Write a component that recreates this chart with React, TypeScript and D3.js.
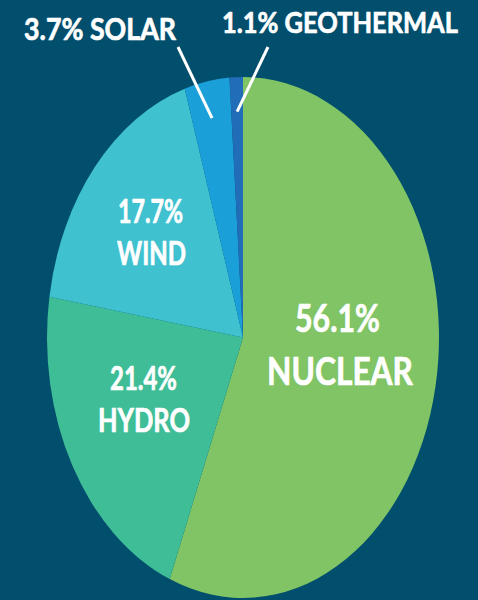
import React from "react";
import * as d3 from "d3";

const sources = ["NUCLEAR", "HYDRO", "WIND", "SOLAR", "GEOTHERMAL"];
const shares = [56.1, 21.4, 17.7, 3.7, 1.1];
const colors = ["#80c465", "#3ebd96", "#3fc1cf", "#1b9fd8", "#226db7"];

const W = 478;
const H = 600;
const BG = "#014e6d";
const CX = 243;
const CY = 337.5;
const RX = 196;
const RY = 260.5;
const FONT = "Lato, 'Open Sans', sans-serif";
const CAP = 0.7165;

type Lbl = { text: string; x: number; y: number; cap: number; width: number };

function Txt({ l }: { l: Lbl }) {
  return (
    <text
      x={l.x}
      y={l.y}
      textAnchor="middle"
      fontFamily={FONT}
      fontWeight={700}
      fontSize={l.cap / CAP}
      fill="#ffffff"
      stroke="#ffffff"
      strokeWidth={0.7}
      strokeLinejoin="round"
      textLength={l.width}
      lengthAdjust="spacingAndGlyphs"
    >
      {l.text}
    </text>
  );
}

export default function App() {
  const pie = d3.pie<number>().sort(null).value((d) => d);
  const arcs = pie(shares);
  const arc = d3.arc<d3.PieArcDatum<number>>().innerRadius(0).outerRadius(RX);
  const sy = RY / RX;

  const pt = (a: number, r: number) => [
    CX + r * Math.sin(a),
    CY - r * Math.cos(a) * sy,
  ];
  const mid = (i: number) => (arcs[i].startAngle + arcs[i].endAngle) / 2;

  const solarEnd = pt(mid(3), 168);
  const geoEnd = pt(mid(4), 170);

  const inner: Lbl[] = [
    { text: `${shares[0]}%`, x: 337.5, y: 332, cap: 27, width: 85 },
    { text: sources[0], x: 340, y: 385, cap: 27, width: 146 },
    { text: `${shares[2]}%`, x: 150.5, y: 223, cap: 23, width: 65 },
    { text: sources[2], x: 151.5, y: 265, cap: 23, width: 69 },
    { text: `${shares[1]}%`, x: 143.5, y: 390, cap: 23, width: 67 },
    { text: sources[1], x: 144, y: 432, cap: 23, width: 92 },
  ];
  const outer: Lbl[] = [
    { text: `${shares[3]}% ${sources[3]}`, x: 100, y: 40, cap: 22, width: 152 },
    { text: `${shares[4]}% ${sources[4]}`, x: 340, y: 33, cap: 21, width: 236 },
  ];

  return (
    <svg
      width={W}
      height={H}
      style={{ position: "fixed", left: 0, top: 0, display: "block" }}
    >
      <rect x={0} y={0} width={W} height={H} fill={BG} />
      <g transform={`translate(${CX},${CY}) scale(1,${sy})`}>
        {arcs.map((a, i) => (
          <path key={sources[i]} d={arc(a) || ""} fill={colors[i]} />
        ))}
      </g>
      <line x1={178} y1={47} x2={solarEnd[0]} y2={solarEnd[1]} stroke="#fff" strokeWidth={3} />
      <line x1={268} y1={47} x2={geoEnd[0]} y2={geoEnd[1]} stroke="#fff" strokeWidth={3} />
      {inner.map((l) => (
        <Txt key={l.text} l={l} />
      ))}
      {outer.map((l) => (
        <Txt key={l.text} l={l} />
      ))}
    </svg>
  );
}
